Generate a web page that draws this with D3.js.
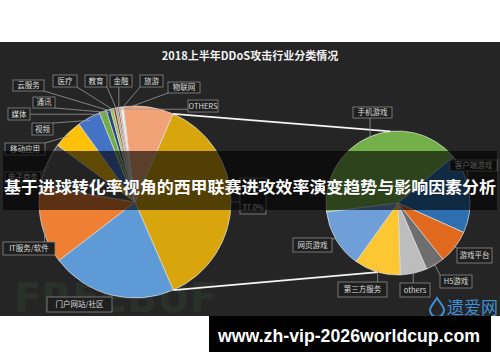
<!DOCTYPE html>
<html>
<head>
<meta charset="utf-8">
<script src="https://cdn.jsdelivr.net/npm/d3@7"></script>
<style>
  body { margin: 0; background: #fff; }
  svg { display: block; }
</style>
</head>
<body>
<div class="chart"></div>
<script>
// main pie: industries (share of all attacks, %)
const industries = ['游戏', '门户网站/社区', 'IT服务/软件', '电子商务', '移动应用', '视频', '媒体', '通讯', '云服务', '医疗', '教育', '金融', '旅游', '物联网', 'OTHERS'];
const industryShare = [37.0, 21.1, 13.1, 7.4, 5.0, 3.9, 1.2, 0.7, 0.5, 0.4, 0.3, 0.3, 0.3, 0.4, 8.4];
const industryColors = ['#d8a60c', '#5d9ad6', '#ee7f33', '#5c5c5c', '#fdc10a', '#4472c4', '#70ad47', '#264478', '#9ebd5d', '#843c0c', '#8c8c8c', '#9e480e', '#b0b0b0', '#f2f2f2', '#f2a277'];

// secondary pie: game breakdown (%)
const gameTypes = ['手机游戏', '客户端游戏', '游戏平台', 'H5游戏', 'others', '第三方服务', '网页游戏'];
const gameShare = [40.9, 17.8, 7.6, 4.2, 6.0, 10.4, 13.1];
const gameColors = ['#74b04a', '#2e6fb0', '#e0691e', '#6e6e6e', '#bdbdbd', '#fdc733', '#6f9fd8'];

const chartTitle = '2018上半年DDoS攻击行业分类情况';
const bannerText = '基于进球转化率视角的西甲联赛进攻效率演变趋势与影响因素分析';
const urlText = 'www.zh-vip-2026worldcup.com';

// label boxes [x0, y0, x1, y1]
const industryLabelBox = {
  '游戏': [240, 178, 266, 214], '门户网站/社区': [47, 297, 112, 312], 'IT服务/软件': [3, 242, 55, 255],
  '电子商务': [5, 172, 41, 183], '移动应用': [5, 143, 45, 155], '视频': [32, 123, 53, 135],
  '媒体': [8, 108, 30, 120], '通讯': [33, 97, 55, 108], '云服务': [13, 80, 44, 91],
  '医疗': [53, 75, 77, 87], '教育': [85, 75, 107, 87], '金融': [110, 75, 132, 87],
  '旅游': [140, 75, 163, 87], '物联网': [168, 82, 200, 93], 'OTHERS': [188, 100, 218, 112]
};
const gameLabelBox = {
  '手机游戏': [353, 107, 392, 118], '客户端游戏': [450, 160, 497, 171], '游戏平台': [457, 248, 492, 263],
  'H5游戏': [440, 275, 472, 288], 'others': [400, 283, 430, 297], '第三方服务': [338, 282, 387, 297],
  '网页游戏': [293, 238, 332, 252]
};

const W = 500, H = 362;
const deg = Math.PI / 180;
const main = { cx: 135, cy: 202, r: 96, start: 23.3 * deg };
const sub = { cx: 398, cy: 203, r: 72, start: -97.2 * deg };

const svg = d3.select('.chart').append('svg')
  .attr('width', W).attr('height', H);

// dark panel
svg.append('rect').attr('x', 0).attr('y', 42).attr('width', W).attr('height', 274).attr('fill', '#252525');

// faint freebuf watermark
svg.append('text').attr('x', 14).attr('y', 312)
  .attr('font-family', 'DejaVu Sans').attr('font-weight', 'bold').attr('font-size', 40)
  .attr('fill', '#3c5e42').attr('opacity', 0.22).text('FREEBUF');

svg.append('text').attr('x', 250).attr('y', 60).attr('text-anchor', 'middle')
  .attr('font-family', 'Noto Sans CJK SC').attr('font-weight', 'bold').attr('font-size', 11)
  .attr('fill', '#f2f2f2').text(chartTitle);

function ptAt(p, a, rr) {
  return [p.cx + rr * Math.sin(a), p.cy - rr * Math.cos(a)];
}

function drawPie(p, values, colors) {
  const pie = d3.pie().sort(null).value(d => d).startAngle(p.start).endAngle(p.start + 2 * Math.PI);
  const arcs = pie(values);
  const arc = d3.arc().innerRadius(0).outerRadius(p.r);
  const g = svg.append('g').attr('transform', `translate(${p.cx},${p.cy})`);
  g.selectAll('path').data(arcs).enter().append('path')
    .attr('d', arc)
    .attr('fill', (d, i) => colors[i])
    .attr('stroke', '#e8e8e8').attr('stroke-width', 0.8).attr('stroke-opacity', 0.85);
  return arcs;
}

function drawLabels(p, names, arcs, boxes, angleOf) {
  const lg = svg.append('g');
  names.forEach((name, i) => {
    const b = boxes[name];
    const a = angleOf ? angleOf(name, arcs[i]) : (arcs[i].startAngle + arcs[i].endAngle) / 2;
    const t = ptAt(p, a, p.r * 0.97);
    const ax = Math.max(b[0], Math.min(b[2], t[0]));
    const ay = Math.max(b[1], Math.min(b[3], t[1]));
    if (Math.hypot(t[0] - ax, t[1] - ay) > 4 && name !== '门户网站/社区') {
      lg.append('line').attr('x1', ax).attr('y1', ay).attr('x2', t[0]).attr('y2', t[1])
        .attr('stroke', '#9a9a9a').attr('stroke-width', 0.8);
    }
    lg.append('rect').attr('x', b[0]).attr('y', b[1]).attr('width', b[2] - b[0]).attr('height', b[3] - b[1])
      .attr('fill', '#1f1f1f').attr('stroke', '#8a8a8a').attr('stroke-width', 0.8);
    const lines = name === '游戏' ? [name, '37.0%'] : [name];
    const txt = lg.append('text').attr('text-anchor', 'middle')
      .attr('font-family', 'Noto Sans CJK SC').attr('font-size', 7.5).attr('fill', '#dcdcdc');
    if (lines.length === 1) {
      txt.attr('x', (b[0] + b[2]) / 2).attr('y', (b[1] + b[3]) / 2 + 2.7).text(name);
    } else {
      txt.append('tspan').attr('x', (b[0] + b[2]) / 2).attr('y', b[1] + 10).text(lines[0]);
      txt.append('tspan').attr('x', (b[0] + b[2]) / 2).attr('y', b[3] - 4).text(lines[1]);
    }
  });
}

const mainArcs = drawPie(main, industryShare, industryColors);
const subArcs = drawPie(sub, gameShare, gameColors);

// connector lines from the 游戏 slice to the breakdown pie
const g0 = mainArcs[0];
const conn = [
  [ptAt(main, g0.startAngle, main.r), ptAt(sub, -6 * deg, sub.r)],
  [ptAt(main, g0.endAngle, main.r), ptAt(sub, 196 * deg, sub.r)]
];
svg.append('g').selectAll('line').data(conn).enter().append('line')
  .attr('x1', d => d[0][0]).attr('y1', d => d[0][1])
  .attr('x2', d => d[1][0]).attr('y2', d => d[1][1])
  .attr('stroke', '#f4f4f4').attr('stroke-width', 1.8);

drawLabels(main, industries, mainArcs, industryLabelBox, (name, d) =>
  name === 'OTHERS' ? d.startAngle + 2 * deg : (d.startAngle + d.endAngle) / 2);
drawLabels(sub, gameTypes, subArcs, gameLabelBox);

// 遗爱网 logo
const logo = svg.append('g');
logo.append('path')
  .attr('d', 'M437,298 C433,304 430,307 430,310 A7,7 0 0 0 444,310 C444,307 441,304 437,298 Z')
  .attr('fill', 'none').attr('stroke', '#3f8fd6').attr('stroke-width', 2);
logo.append('text').attr('x', 447).attr('y', 314)
  .attr('font-family', 'Noto Sans CJK SC').attr('font-size', 17).attr('fill', '#3f8fd6').text('遗爱网');

// dark banner with overlaid headline
svg.append('rect').attr('x', 3).attr('y', 151).attr('width', 494).attr('height', 59)
  .attr('fill', '#000').attr('opacity', 0.62);
svg.append('text').attr('x', 4).attr('y', 193)
  .attr('font-family', 'Noto Sans CJK SC').attr('font-weight', 'bold').attr('font-size', 16.4)
  .attr('textLength', 492).attr('lengthAdjust', 'spacingAndGlyphs')
  .attr('fill', '#fff').text(bannerText);

// url box
svg.append('rect').attr('x', 209).attr('y', 316).attr('width', 282).attr('height', 36).attr('fill', '#000');
svg.append('text').attr('x', 218).attr('y', 342)
  .attr('font-family', 'Liberation Sans').attr('font-weight', 'bold').attr('font-size', 18)
  .attr('textLength', 262).attr('lengthAdjust', 'spacingAndGlyphs')
  .attr('fill', '#fff').text(urlText);
</script>
</body>
</html>
